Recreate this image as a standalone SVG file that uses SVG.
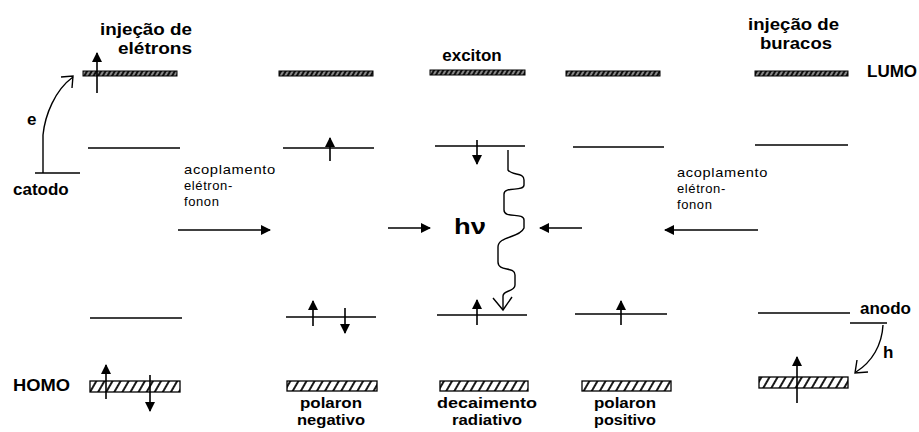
<svg xmlns="http://www.w3.org/2000/svg" width="919" height="432" viewBox="0 0 919 432">
<style>
.lv{stroke:#000;stroke-width:1.6;fill:none}
.ln{stroke:#000;stroke-width:1.4;fill:none}
.lumo{fill:url(#dk);stroke:#000;stroke-width:1}
.homo{fill:url(#hh);stroke:#000;stroke-width:1.3}
.sp{stroke:#000;stroke-width:1.6;fill:none;marker-end:url(#ah)}
.ha{stroke:#000;stroke-width:1.6;fill:none;marker-end:url(#ah)}
.b{font-family:"Liberation Sans",Arial,sans-serif;font-weight:bold;font-size:17px;fill:#000}
.bl{font-family:"Liberation Sans",Arial,sans-serif;font-weight:bold;font-size:15px;fill:#000;text-anchor:middle}
.hv{font-family:"Liberation Sans",Arial,sans-serif;font-weight:bold;font-size:22px;fill:#000}
.c{text-anchor:middle}
.s{font-family:"Liberation Sans",Arial,sans-serif;font-size:13px;fill:#000;letter-spacing:0.6px}
</style>
<defs>
<pattern id="hh" width="7" height="7" patternUnits="userSpaceOnUse" patternTransform="rotate(30)">
<rect width="7" height="7" fill="#fff"/>
<line x1="1" y1="0" x2="1" y2="7" stroke="#000" stroke-width="1.8"/>
</pattern>
<pattern id="dk" width="4" height="4" patternUnits="userSpaceOnUse" patternTransform="rotate(30)">
<rect width="4" height="4" fill="#111"/>
<line x1="1" y1="0" x2="1" y2="4" stroke="#fff" stroke-width="1"/>
</pattern>
<marker id="ah" viewBox="0 0 10 10" refX="9" refY="5" markerWidth="10" markerHeight="10" markerUnits="userSpaceOnUse" orient="auto">
<path d="M0,0 L10,5 L0,10 z" fill="#000"/>
</marker>
</defs>
<rect width="919" height="432" fill="#fff"/>

<g id="cathode">
<line class="ln" x1="35" y1="173" x2="80" y2="173"/>
<path class="ln" d="M43,173 L43,135 C45,115 55,90 73,77"/>
<path class="ln" d="M61,77 L73,76 L72,88"/>
<text class="b" x="27" y="125">e</text>
<text class="b" x="13" y="195">catodo</text>
</g>

<g id="labels">
<text class="b" x="13" y="391" textLength="57" lengthAdjust="spacingAndGlyphs">HOMO</text>
<text class="b" x="867" y="77">LUMO</text>
</g>

<g id="col1-injecao-eletrons">
<text class="b" x="100" y="35" textLength="92" lengthAdjust="spacingAndGlyphs">injeção de</text>
<text class="b" x="118" y="54" textLength="74" lengthAdjust="spacingAndGlyphs">elétrons</text>
<rect class="lumo" x="83" y="71" width="94" height="5"/>
<line class="sp" x1="97" y1="93" x2="97" y2="53"/>
<line class="lv" x1="88" y1="148" x2="180" y2="148"/>
<line class="lv" x1="90" y1="318" x2="182" y2="318"/>
<rect class="homo" x="90" y="381" width="90" height="11"/>
<line class="sp" x1="106" y1="399" x2="106" y2="365"/>
<line class="sp" x1="150" y1="375" x2="150" y2="411"/>
</g>

<g id="col2-polaron-negativo">
<rect class="lumo" x="279" y="71" width="94" height="5"/>
<line class="lv" x1="283" y1="148" x2="374" y2="148"/>
<line class="sp" x1="330" y1="161" x2="330" y2="138"/>
<line class="lv" x1="286" y1="317" x2="376" y2="317"/>
<line class="sp" x1="313" y1="326" x2="313" y2="301"/>
<line class="sp" x1="345" y1="308" x2="345" y2="333"/>
<rect class="homo" x="287" y="381" width="90" height="10"/>
<text class="bl" x="331" y="408" textLength="62" lengthAdjust="spacingAndGlyphs">polaron</text>
<text class="bl" x="331" y="425" textLength="68" lengthAdjust="spacingAndGlyphs">negativo</text>
</g>

<g id="col3-exciton">
<text class="b c" x="472" y="61">exciton</text>
<rect class="lumo" x="430" y="70" width="95" height="5"/>
<line class="lv" x1="435" y1="146" x2="525" y2="146"/>
<line class="sp" x1="477" y1="140" x2="477" y2="164"/>
<line class="lv" x1="437" y1="315" x2="527" y2="315"/>
<line class="sp" x1="477" y1="325" x2="477" y2="300"/>
<rect class="homo" x="440" y="381" width="88" height="10"/>
<text class="hv" x="454" y="234" textLength="32" lengthAdjust="spacingAndGlyphs">hν</text>
<text class="bl" x="487" y="408" textLength="100" lengthAdjust="spacingAndGlyphs">decaimento</text>
<text class="bl" x="487" y="425" textLength="70" lengthAdjust="spacingAndGlyphs">radiativo</text>
</g>

<g id="col4-polaron-positivo">
<rect class="lumo" x="566" y="71" width="94" height="5"/>
<line class="lv" x1="573" y1="147" x2="664" y2="147"/>
<line class="lv" x1="575" y1="314" x2="667" y2="314"/>
<line class="sp" x1="621" y1="325" x2="621" y2="301"/>
<rect class="homo" x="582" y="381" width="89" height="10"/>
<text class="bl" x="625" y="408" textLength="62" lengthAdjust="spacingAndGlyphs">polaron</text>
<text class="bl" x="625" y="425" textLength="62" lengthAdjust="spacingAndGlyphs">positivo</text>
</g>

<g id="col5-injecao-buracos">
<text class="b" x="748" y="30" textLength="91" lengthAdjust="spacingAndGlyphs">injeção de</text>
<text class="b" x="760" y="49" textLength="72" lengthAdjust="spacingAndGlyphs">buracos</text>
<rect class="lumo" x="755" y="71" width="93" height="5"/>
<line class="lv" x1="755" y1="145" x2="848" y2="145"/>
<line class="lv" x1="758" y1="313" x2="850" y2="313"/>
<rect class="homo" x="759" y="377" width="89" height="11"/>
<line class="sp" x1="797" y1="403" x2="797" y2="357"/>
</g>

<g id="anode">
<text class="b" x="860" y="314">anodo</text>
<line class="ln" x1="850" y1="323" x2="887" y2="323"/>
<path class="ln" d="M883,325 C882,345 872,362 856,372"/>
<path class="ln" d="M857,360 L855,373 L868,372"/>
<text class="b" x="883" y="358">h</text>
</g>

<g id="coupling-left">
<text class="s" x="184" y="174" textLength="92" lengthAdjust="spacingAndGlyphs">acoplamento</text>
<text class="s" x="184" y="190">elétron-</text>
<text class="s" x="184" y="206">fonon</text>
</g>
<g id="coupling-right">
<text class="s" x="677" y="177" textLength="91" lengthAdjust="spacingAndGlyphs">acoplamento</text>
<text class="s" x="677" y="193">elétron-</text>
<text class="s" x="677" y="209">fonon</text>
</g>

<g id="connectors">
<line class="ha" x1="178" y1="230" x2="270" y2="230"/>
<line class="ha" x1="388" y1="228" x2="430" y2="228"/>
<line class="ha" x1="582" y1="228" x2="540" y2="228"/>
<line class="ha" x1="758" y1="230" x2="665" y2="230"/>
<path class="ln" d="M508,150 L508,170 C512,176 524,172 524,180 L524,185 C524,192 504,186 504,194 L504,210 C504,219 524,212 524,220 L524,228 C520,238 498,236 498,247 L498,262 C498,272 515,266 515,275 L515,285 C515,292 503,290 503,296 L503,310"/>
<path class="ln" d="M493,298 L503,310 L512,297"/>
</g>
</svg>
